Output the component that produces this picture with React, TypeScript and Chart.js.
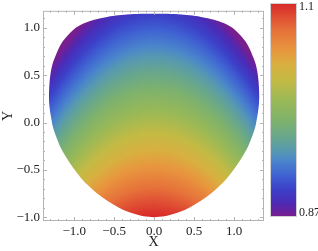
import React, { useEffect, useRef } from 'react';
import { Chart, registerables } from 'chart.js';

Chart.register(...registerables);

// Boundary of the plotted region (data coordinates), traced around the outline
const boundaryX = [0, 0.13, 0.26, 0.39, 0.51, 0.65, 0.78, 0.89, 0.99, 1.09, 1.16, 1.22, 1.265, 1.29, 1.31, 1.315, 1.31, 1.295, 1.27, 1.24, 1.195, 1.14, 1.07, 0.98, 0.87, 0.75, 0.62, 0.48, 0.34, 0.17, 0,
  -0.17, -0.34, -0.48, -0.62, -0.75, -0.87, -0.98, -1.07, -1.14, -1.195, -1.24, -1.27, -1.295, -1.31, -1.315, -1.31, -1.29, -1.265, -1.22, -1.16, -1.09, -0.99, -0.89, -0.78, -0.65, -0.51, -0.39, -0.26, -0.13, 0];
const boundaryY = [-1.0, -0.99, -0.96, -0.92, -0.865, -0.79, -0.7, -0.61, -0.505, -0.38, -0.28, -0.16, -0.05, 0.06, 0.18, 0.28, 0.4, 0.52, 0.62, 0.69, 0.78, 0.86, 0.93, 1.0, 1.05, 1.085, 1.11, 1.13, 1.14, 1.148, 1.15,
  1.148, 1.14, 1.13, 1.11, 1.085, 1.05, 1.0, 0.93, 0.86, 0.78, 0.69, 0.62, 0.52, 0.4, 0.28, 0.18, 0.06, -0.05, -0.16, -0.28, -0.38, -0.505, -0.61, -0.7, -0.79, -0.865, -0.92, -0.96, -0.99, -1.0];

// Axis ticks
const xMajorTicks = [-1, -0.5, 0, 0.5, 1];
const yMajorTicks = [-1, -0.5, 0, 0.5, 1];
const xMinorTicks = [-1.3, -1.2, -1.1, -0.9, -0.8, -0.7, -0.6, -0.4, -0.3, -0.2, -0.1, 0.1, 0.2, 0.3, 0.4, 0.6, 0.7, 0.8, 0.9, 1.1, 1.2, 1.3];
const yMinorTicks = [-0.9, -0.8, -0.7, -0.6, -0.4, -0.3, -0.2, -0.1, 0.1, 0.2, 0.3, 0.4, 0.6, 0.7, 0.8, 0.9, 1.1];

// Colour bar
const colorbarLabels = ['1.1', '0.87'];
const stopPositions = [0, 0.126, 0.22, 0.29, 0.36, 0.45, 0.55, 0.63, 0.69, 0.74, 0.81, 0.87, 0.93, 0.97, 1];
const stopColors = ['#d8282a', '#e6713a', '#e8963e', '#d8b040', '#c4ba44', '#9cb955', '#7eb26c', '#67a68e', '#5799b0', '#4a84cc', '#3f60d2', '#3c40c8', '#4a2cb8', '#6422a0', '#7a1e8c'];

// Shading of the field (level = y + bend * x^2)
const fieldBend = 0.5;
const fieldLevelLow = -1.0;
const fieldLevelHigh = 1.45;

const FONT = "'Liberation Serif', 'Times New Roman', serif";
const FRAME = '#b4b4b4';

const fmt = (v: number) => v.toFixed(1).replace('-', '\u2212');

let patternCache: { key: string; pattern: CanvasPattern | null } | null = null;

function fieldPattern(chart: any) {
  const area = chart.chartArea;
  if (!area) return 'rgba(0,0,0,0)';
  const key = `${chart.width}x${chart.height}:${area.left},${area.top},${area.right},${area.bottom}`;
  if (patternCache && patternCache.key === key) return patternCache.pattern;
  const c = document.createElement('canvas');
  c.width = chart.width;
  c.height = chart.height;
  const g = c.getContext('2d')!;
  const xs = chart.scales.x;
  const ys = chart.scales.y;
  for (let px = Math.floor(area.left); px < Math.ceil(area.right); px++) {
    const xv = xs.getValueForPixel(px + 0.5);
    const off = fieldBend * xv * xv;
    const y0 = ys.getPixelForValue(fieldLevelLow - off);
    const y1 = ys.getPixelForValue(fieldLevelHigh - off);
    const grad = g.createLinearGradient(0, y0, 0, y1);
    stopPositions.forEach((p, i) => grad.addColorStop(p, stopColors[i]));
    g.fillStyle = grad;
    g.fillRect(px, area.top, 1, area.bottom - area.top);
  }
  const pattern = g.createPattern(c, 'no-repeat');
  patternCache = { key, pattern };
  return pattern;
}

const framePlugin = {
  id: 'framePlugin',
  afterDraw(chart: any) {
    const { ctx, chartArea: a, scales } = chart;
    const xs = scales.x;
    const ys = scales.y;
    ctx.save();
    ctx.strokeStyle = FRAME;
    ctx.lineWidth = 1;
    ctx.strokeRect(a.left + 0.5, a.top + 0.5, a.right - a.left - 1, a.bottom - a.top - 1);
    const tick = (vals: number[], len: number) => {
      vals.forEach((v) => {
        const px = Math.round(xs.getPixelForValue(v)) + 0.5;
        ctx.beginPath();
        ctx.moveTo(px, a.bottom);
        ctx.lineTo(px, a.bottom - len);
        ctx.moveTo(px, a.top);
        ctx.lineTo(px, a.top + len);
        ctx.stroke();
      });
    };
    const tickY = (vals: number[], len: number) => {
      vals.forEach((v) => {
        const py = Math.round(ys.getPixelForValue(v)) + 0.5;
        ctx.beginPath();
        ctx.moveTo(a.left, py);
        ctx.lineTo(a.left + len, py);
        ctx.moveTo(a.right, py);
        ctx.lineTo(a.right - len, py);
        ctx.stroke();
      });
    };
    tick(xMajorTicks, 4);
    tick(xMinorTicks, 2);
    tickY(yMajorTicks, 4);
    tickY(yMinorTicks, 2);

    // colour bar
    const cbLeft = a.right + 6;
    const cbWidth = 27;
    const cbTop = 3;
    const cbBottom = 217;
    const grad = ctx.createLinearGradient(0, cbTop, 0, cbBottom);
    stopPositions.forEach((p: number, i: number) => grad.addColorStop(p, stopColors[i]));
    ctx.fillStyle = grad;
    ctx.fillRect(cbLeft, cbTop, cbWidth, cbBottom - cbTop);
    ctx.strokeStyle = '#d0d0d0';
    ctx.strokeRect(cbLeft + 0.5, cbTop + 0.5, cbWidth - 1, cbBottom - cbTop - 1);
    ctx.fillStyle = '#222';
    ctx.font = `12px ${FONT}`;
    ctx.textAlign = 'left';
    ctx.textBaseline = 'middle';
    ctx.fillText(colorbarLabels[0], cbLeft + cbWidth + 2, cbTop + 4);
    ctx.fillText(colorbarLabels[1], cbLeft + cbWidth + 2, cbBottom - 4);
    ctx.restore();
  },
};

export default function App() {
  const ref = useRef<HTMLCanvasElement>(null);
  useEffect(() => {
    if (!ref.current) return;
    const points = boundaryX.map((x, i) => ({ x, y: boundaryY[i] }));
    const chart = new Chart(ref.current, {
      type: 'line',
      data: {
        datasets: [
          {
            data: points,
            showLine: true,
            fill: 'shape',
            tension: 0.3,
            capBezierPoints: false,
            borderWidth: 0,
            borderColor: 'rgba(0,0,0,0)',
            pointRadius: 0,
            backgroundColor: (c: any) => fieldPattern(c.chart),
          } as any,
        ],
      },
      options: {
        responsive: false,
        animation: false,
        events: [],
        layout: { padding: { top: 2, right: 54, left: 0, bottom: 0 } },
        plugins: { legend: { display: false }, tooltip: { enabled: false } },
        scales: {
          x: {
            type: 'linear',
            min: -1.39,
            max: 1.375,
            grid: { display: false, drawTicks: false },
            border: { display: false },
            ticks: {
              stepSize: 0.5,
              includeBounds: false,
              padding: 3,
              color: '#222',
              font: { family: FONT, size: 13 },
              maxRotation: 0,
              callback: (v: any) => fmt(Number(v)),
            },
            title: { display: true, text: 'X', color: '#222', font: { family: FONT, size: 14 }, padding: { top: -2, bottom: 0 } },
            afterFit: (s: any) => {
              s.height = 30;
            },
          },
          y: {
            type: 'linear',
            min: -1.04,
            max: 1.18,
            grid: { display: false, drawTicks: false },
            border: { display: false },
            ticks: {
              stepSize: 0.5,
              includeBounds: false,
              padding: 3,
              color: '#222',
              font: { family: FONT, size: 13 },
              callback: (v: any) => fmt(Number(v)),
            },
            title: { display: true, text: 'Y', color: '#222', font: { family: FONT, size: 14 }, padding: 0 },
            afterFit: (s: any) => {
              s.width = 43;
            },
          },
        },
      } as any,
      plugins: [framePlugin],
    });
    return () => chart.destroy();
  }, []);
  return (
    <div style={{ position: 'fixed', left: 0, top: 0, width: 318, height: 251, background: '#fff' }}>
      <canvas ref={ref} width={318} height={251} style={{ display: 'block' }} />
    </div>
  );
}
